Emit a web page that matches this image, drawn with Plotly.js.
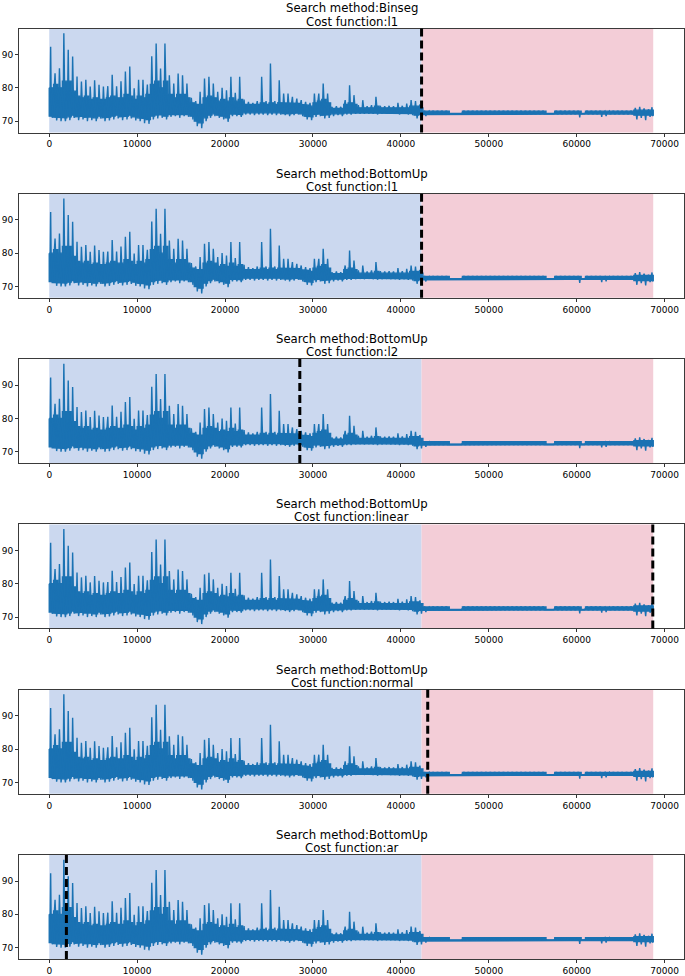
<!DOCTYPE html>
<html>
<head>
<meta charset="utf-8">
<script src="https://cdn.plot.ly/plotly-3.0.1.min.js"></script>
<style>html,body{margin:0;padding:0;background:#fff;}#chart{width:685px;height:976px;}</style>
</head>
<body>
<div id="chart"></div>
<script>
// ---- data ----
const N_SAMPLES = 68700;          // length of the signal
const BIN = 500;                  // samples summarised by each value below
// highest value seen inside each block of 500 samples (spike tops)
const binHigh = [
  92.3, 84.4, 85.9, 96.4, 91.4, 89.4, 83.4, 81.9, 82.4, 80.4,
  82.3, 80.9, 80.4, 80.5, 83.9, 80.5, 82.0, 84.9, 86.4, 79.9,
  82.4, 82.4, 81.0, 89.5, 93.3, 85.8, 93.3, 83.8, 81.3, 84.3,
  83.8, 81.3, 77.0, 76.0, 78.8, 82.8, 83.3, 81.3, 78.8, 80.0,
  79.3, 83.3, 78.5, 83.3, 76.5, 75.8, 75.5, 76.0, 83.3, 76.0,
  87.3, 76.0, 82.3, 78.3, 78.3, 77.3, 76.8, 76.3, 75.8, 75.5,
  78.3, 78.3, 81.3, 78.3, 74.3, 74.5, 74.3, 76.3, 80.8, 77.8,
  74.8, 76.3, 74.5, 74.8, 77.3, 74.6, 74.5, 74.6, 74.5, 75.5,
  74.6, 75.3, 76.3, 76.0, 75.0, 73.0, 73.0, 73.0, 73.0, 73.0,
  73.0, 72.3, 72.3, 72.3, 73.0, 73.0, 73.0, 73.0, 73.0, 73.0,
  73.0, 73.0, 73.0, 73.0, 73.0, 73.0, 73.0, 73.0, 73.0, 73.0,
  73.0, 73.0, 73.0, 72.3, 72.3, 73.0, 73.0, 73.0, 73.0, 73.0,
  73.0, 72.3, 73.0, 73.0, 73.0, 73.0, 73.0, 73.0, 73.0, 73.0,
  73.0, 73.0, 73.0, 74.0, 74.3, 73.8, 73.5, 74.2
];
// upper edge of the dense core of the trace in each block
const bandTop = [
  80.0, 81.0, 80.0, 82.0, 82.0, 79.0, 77.5, 77.0, 77.5, 76.5,
  77.0, 76.5, 76.5, 77.0, 77.5, 77.0, 77.0, 78.0, 77.5, 76.5,
  77.5, 77.0, 78.0, 81.0, 82.0, 80.0, 82.0, 78.0, 77.0, 78.0,
  78.0, 77.0, 75.5, 75.0, 75.0, 77.0, 77.5, 77.0, 76.0, 76.5,
  76.0, 77.0, 76.0, 76.5, 75.0, 74.8, 74.8, 75.0, 75.5, 75.0,
  75.5, 75.0, 75.5, 75.5, 75.5, 75.5, 75.3, 75.0, 74.8, 74.5,
  75.5, 76.0, 76.5, 75.5, 73.8, 74.0, 73.8, 75.0, 75.5, 75.0,
  74.0, 74.2, 74.0, 74.0, 74.5, 74.0, 74.0, 74.0, 74.0, 74.0,
  74.0, 74.0, 74.5, 74.5, 74.0, 73.0, 73.0, 73.0, 73.0, 73.0,
  73.0, 72.3, 72.3, 72.3, 73.0, 73.0, 73.0, 73.0, 73.0, 73.0,
  73.0, 73.0, 73.0, 73.0, 73.0, 73.0, 73.0, 73.0, 73.0, 73.0,
  73.0, 73.0, 73.0, 72.3, 72.3, 73.0, 73.0, 73.0, 73.0, 73.0,
  73.0, 72.3, 73.0, 73.0, 73.0, 73.0, 73.0, 73.0, 73.0, 73.0,
  73.0, 73.0, 73.0, 73.3, 73.3, 73.3, 73.3, 73.3
];
// lower edge of the dense core of the trace in each block
const bandBottom = [
  71.5, 71.2, 71.0, 71.0, 71.3, 71.8, 71.3, 71.5, 71.2, 71.3,
  71.0, 71.5, 71.0, 71.2, 71.5, 71.8, 71.3, 71.5, 71.8, 71.3,
  71.0, 70.8, 70.5, 71.5, 71.8, 72.0, 71.5, 72.0, 72.2, 72.0,
  72.2, 72.0, 71.5, 70.0, 69.5, 71.0, 71.8, 72.2, 71.8, 71.5,
  71.0, 72.2, 72.2, 72.0, 72.5, 72.5, 72.3, 72.5, 72.5, 72.3,
  72.5, 72.3, 72.5, 72.3, 72.2, 72.3, 72.5, 72.2, 71.5, 71.3,
  72.0, 72.2, 71.8, 72.0, 72.2, 72.3, 72.2, 72.5, 72.5, 72.5,
  72.5, 72.5, 72.5, 72.5, 72.5, 72.5, 72.5, 72.5, 72.5, 72.5,
  72.5, 72.5, 72.3, 71.8, 72.0, 72.2, 72.2, 72.2, 72.2, 72.2,
  72.2, 72.2, 72.2, 72.2, 72.2, 72.2, 72.2, 72.2, 72.2, 72.2,
  72.2, 72.2, 72.2, 72.2, 72.2, 72.2, 72.2, 72.2, 72.2, 72.2,
  72.2, 72.2, 72.2, 72.2, 72.2, 72.2, 72.2, 72.2, 72.2, 72.2,
  72.2, 72.2, 72.2, 72.2, 72.2, 72.2, 72.2, 72.2, 72.2, 72.2,
  72.2, 72.2, 72.2, 71.8, 71.8, 71.8, 71.8, 71.8
];
// lowest value seen inside each block of 500 samples
const binLow = [
  71.0, 70.2, 70.0, 70.0, 70.3, 71.0, 70.3, 70.5, 70.0, 70.3,
  70.0, 70.8, 70.0, 70.2, 70.5, 70.8, 70.3, 70.5, 70.8, 70.2,
  70.0, 69.4, 69.2, 70.5, 70.8, 71.0, 70.5, 71.3, 71.5, 71.0,
  71.5, 71.3, 70.5, 68.5, 67.9, 70.0, 71.0, 71.5, 71.0, 70.5,
  69.8, 71.5, 71.5, 71.3, 72.0, 72.0, 71.8, 72.0, 72.0, 71.8,
  72.0, 71.8, 72.0, 71.8, 71.5, 71.8, 72.0, 71.5, 70.5, 70.3,
  71.3, 71.5, 70.8, 71.0, 71.5, 71.8, 71.5, 72.0, 72.0, 72.2,
  72.3, 72.2, 72.3, 72.2, 72.0, 72.2, 72.3, 72.2, 72.2, 72.0,
  72.2, 72.0, 71.8, 70.8, 71.0, 71.5, 72.2, 72.2, 72.2, 72.2,
  72.2, 72.2, 72.2, 72.2, 72.2, 72.2, 72.2, 72.2, 72.2, 72.2,
  72.2, 72.2, 72.2, 72.2, 72.2, 72.2, 72.2, 72.2, 72.2, 72.2,
  72.2, 72.2, 72.2, 72.2, 72.2, 72.2, 72.2, 72.2, 72.2, 72.2,
  71.1, 72.2, 72.2, 72.2, 72.2, 71.3, 71.5, 72.2, 72.2, 72.2,
  72.2, 72.2, 72.2, 70.5, 71.0, 70.3, 71.3, 71.5
];
const trueBreakpoint = 42350;
const searchMethods = ["Binseg", "BottomUp", "BottomUp", "BottomUp", "BottomUp", "BottomUp"];
const costFunctions = ["l1", "l1", "l2", "linear", "normal", "ar"];
const predictedBreakpoints = [42350, 42350, 28500, 68650, 43050, 1950];
const xTicks = [0, 10000, 20000, 30000, 40000, 50000, 60000, 70000];
const yTicks = [70, 80, 90];

// ---- geometry of the polylines built from the block summaries ----
const upX = [], upY = [], loX = [], loY = [], spikeX = [], spikeY = [];
const nb = binHigh.length;
for (let i = 0; i < nb; i++) {
  const s = i * BIN, e = Math.min(s + BIN, N_SAMPLES), w = e - s;
  upX.push(s, e); upY.push(bandTop[i], bandTop[i]);
  loX.push(s, e); loY.push(bandBottom[i], bandBottom[i]);
  spikeX.push(s + 0.22 * w, s + 0.32 * w, s + 0.42 * w, s + 0.58 * w, s + 0.68 * w, s + 0.78 * w);
  spikeY.push(bandTop[i], binHigh[i], bandTop[i], bandBottom[i], binLow[i], bandBottom[i]);
}
const bandX = [...upX, ...loX.slice().reverse(), upX[0]];
const bandY = [...upY, ...loY.slice().reverse(), upY[0]];

const W = 685, H = 976;
const LINE = '#1a72b3', BLUE = '#cbd8ef', PINK = '#f3cdd7';
const FONT = 'DejaVu Sans, Liberation Sans, sans-serif';
const data = [], shapes = [], annotations = [];
const layout = {
  width: W, height: H, margin: {l: 19, r: 1, t: 0, b: 0},
  paper_bgcolor: '#fff', plot_bgcolor: '#fff', showlegend: false,
  font: {family: FONT, color: '#000'}
};
for (let k = 0; k < 6; k++) {
  const sfx = k === 0 ? '' : String(k + 1);
  const top = 28.5 + k * 165.3, bot = top + 104;
  const dom = [1 - bot / H, 1 - top / H];
  const axCommon = {
    ticks: 'outside', ticklen: 3, tickwidth: 0.8, tickcolor: '#000',
    showline: true, mirror: true, linecolor: '#3a3a3a', linewidth: 1,
    showgrid: false, zeroline: false,
    tickfont: {family: FONT, size: 9, color: '#000'}
  };
  layout['xaxis' + sfx] = Object.assign({}, axCommon, {
    domain: [0, 1], anchor: 'y' + sfx, range: [-3440, 72200],
    tickvals: xTicks, ticktext: xTicks.map(String)
  });
  layout['yaxis' + sfx] = Object.assign({}, axCommon, {
    domain: dom, anchor: 'x' + sfx, range: [66.6, 97.8],
    tickvals: yTicks, ticktext: yTicks.map(String)
  });
  data.push({
    type: 'scatter', mode: 'lines', x: bandX, y: bandY, fill: 'toself',
    fillcolor: LINE, xaxis: 'x' + sfx, yaxis: 'y' + sfx,
    line: {color: LINE, width: 1.4}, hoverinfo: 'skip'
  });
  data.push({
    type: 'scatter', mode: 'lines', x: spikeX, y: spikeY,
    xaxis: 'x' + sfx, yaxis: 'y' + sfx,
    line: {color: LINE, width: 1.4}, hoverinfo: 'skip'
  });
  const xr = 'x' + sfx, yr = 'y' + sfx + ' domain';
  shapes.push({type: 'rect', xref: xr, yref: yr, x0: 0, x1: trueBreakpoint, y0: 0, y1: 1,
    fillcolor: BLUE, line: {width: 0}, layer: 'below'});
  shapes.push({type: 'rect', xref: xr, yref: yr, x0: trueBreakpoint, x1: N_SAMPLES, y0: 0, y1: 1,
    fillcolor: PINK, line: {width: 0}, layer: 'below'});
  shapes.push({type: 'line', xref: xr, yref: yr, x0: predictedBreakpoints[k], x1: predictedBreakpoints[k],
    y0: 0, y1: 1, line: {color: '#000', width: 3, dash: '8px,4px'}, layer: 'above'});
  annotations.push({xref: 'paper', yref: 'paper', x: 0.5, y: 1 - (top - 20) / H, xanchor: 'center', yanchor: 'middle',
    text: 'Search method:' + searchMethods[k], showarrow: false, font: {family: FONT, size: 11.7, color: '#000'}});
  annotations.push({xref: 'paper', yref: 'paper', x: 0.5, y: 1 - (top - 7) / H, xanchor: 'center', yanchor: 'middle',
    text: 'Cost function:' + costFunctions[k], showarrow: false, font: {family: FONT, size: 11.7, color: '#000'}});
}
layout.shapes = shapes;
layout.annotations = annotations;
Plotly.newPlot('chart', data, layout, {displayModeBar: false, staticPlot: true});
</script>
</body>
</html>
